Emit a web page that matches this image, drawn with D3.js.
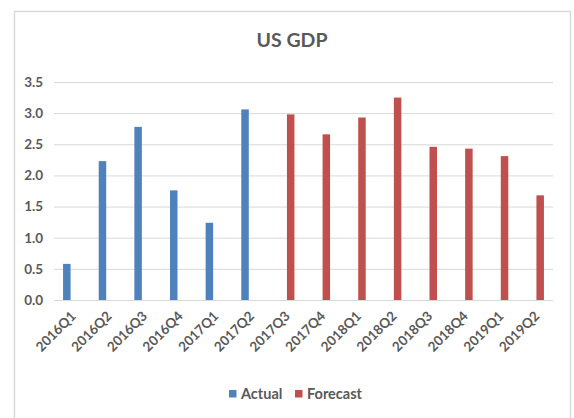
<!DOCTYPE html>
<html>
<head>
<meta charset="utf-8">
<script src="https://cdn.jsdelivr.net/npm/d3@7"></script>
<style>
  html, body { margin: 0; padding: 0; background: #fff; }
  svg { display: block; }
  text { font-family: Lato, "Open Sans", sans-serif; font-weight: bold; fill: #595959; }
</style>
</head>
<body>
<svg id="chart" width="574" height="418"></svg>
<script>
// Quarterly US GDP growth: reported quarters and forecast quarters
const quarters = ["2016Q1","2016Q2","2016Q3","2016Q4","2017Q1","2017Q2","2017Q3",
                  "2017Q4","2018Q1","2018Q2","2018Q3","2018Q4","2019Q1","2019Q2"];
const actual   = [0.58, 2.23, 2.78, 1.76, 1.24, 3.06, null, null, null, null, null, null, null, null];
const forecast = [null, null, null, null, null, null, 2.98, 2.66, 2.93, 3.25, 2.46, 2.43, 2.31, 1.68];
const seriesNames = ["Actual", "Forecast"];
const seriesColors = ["#4f81bd", "#c0504d"];
const yTicks = [0, 0.5, 1, 1.5, 2, 2.5, 3, 3.5];

const svg = d3.select("#chart");

// chart frame
svg.append("rect")
  .attr("x", 14.5).attr("y", 11.5)
  .attr("width", 556).attr("height", 420)
  .attr("fill", "#fff").attr("stroke", "#d9d9d9").attr("stroke-width", 1.5);

const plot = { left: 54, right: 553, top: 82, bottom: 300 };

const x0 = d3.scaleBand().domain(quarters)
  .range([plot.left, plot.right])
  .paddingInner(0.509).paddingOuter(0.2545);
const x1 = d3.scaleBand().domain(seriesNames)
  .range([0, x0.bandwidth()])
  .paddingInner(0.25);
const y = d3.scaleLinear().domain([0, 3.5]).range([plot.bottom, plot.top]);
const color = d3.scaleOrdinal().domain(seriesNames).range(seriesColors);

// title
svg.append("text")
  .attr("x", 292).attr("y", 47)
  .attr("text-anchor", "middle")
  .attr("font-size", 19.5)
  .text("US GDP");

// gridlines and y labels
const yAxis = d3.axisLeft(y).tickValues(yTicks)
  .tickFormat(d3.format(".1f"))
  .tickSize(-(plot.right - plot.left)).tickPadding(11);
const gy = svg.append("g")
  .attr("transform", `translate(${plot.left},0)`)
  .call(yAxis);
gy.select(".domain").remove();
gy.selectAll(".tick line").attr("stroke", "#d9d9d9").attr("stroke-width", 1);
gy.selectAll(".tick text")
  .attr("font-size", 13.5)
  .style("font-family", "Lato, sans-serif")
  .attr("fill", "#595959");

// bars
const rows = quarters.map((q, i) => ({ q, values: [
  { name: "Actual", v: actual[i] },
  { name: "Forecast", v: forecast[i] }
].filter(d => d.v != null) }));

const groups = svg.append("g").selectAll("g")
  .data(rows).join("g")
  .attr("transform", d => `translate(${x0(d.q)},0)`);
groups.selectAll("rect")
  .data(d => d.values).join("rect")
  .attr("x", d => x1(d.name))
  .attr("width", x1.bandwidth())
  .attr("y", d => y(d.v))
  .attr("height", d => y(0) - y(d.v))
  .attr("fill", d => color(d.name));

// category axis
const xAxis = d3.axisBottom(x0).tickSize(0).tickPadding(0);
const gx = svg.append("g")
  .attr("transform", `translate(0,${plot.bottom})`)
  .call(xAxis);
gx.select(".domain").attr("stroke", "#d9d9d9").attr("stroke-width", 1)
  .attr("d", `M${plot.left},0.5H${plot.right}`);
gx.selectAll(".tick text")
  .attr("font-size", 13.5)
  .style("font-family", "Lato, sans-serif")
  .attr("fill", "#595959")
  .attr("text-anchor", "end")
  .attr("dy", 0)
  .attr("transform", "translate(5,17) rotate(-45)");

// legend
const legend = svg.append("g").attr("transform", "translate(229,394)");
const legendX = [0, 66];
seriesNames.forEach((name, i) => {
  const g = legend.append("g").attr("transform", `translate(${legendX[i]},0)`);
  g.append("rect").attr("x", 0).attr("y", -4).attr("width", 7.5).attr("height", 7.5)
    .attr("fill", color(name));
  g.append("text").attr("x", 12).attr("y", 5)
    .attr("font-size", 14.5)
    .text(name);
});
</script>
</body>
</html>
